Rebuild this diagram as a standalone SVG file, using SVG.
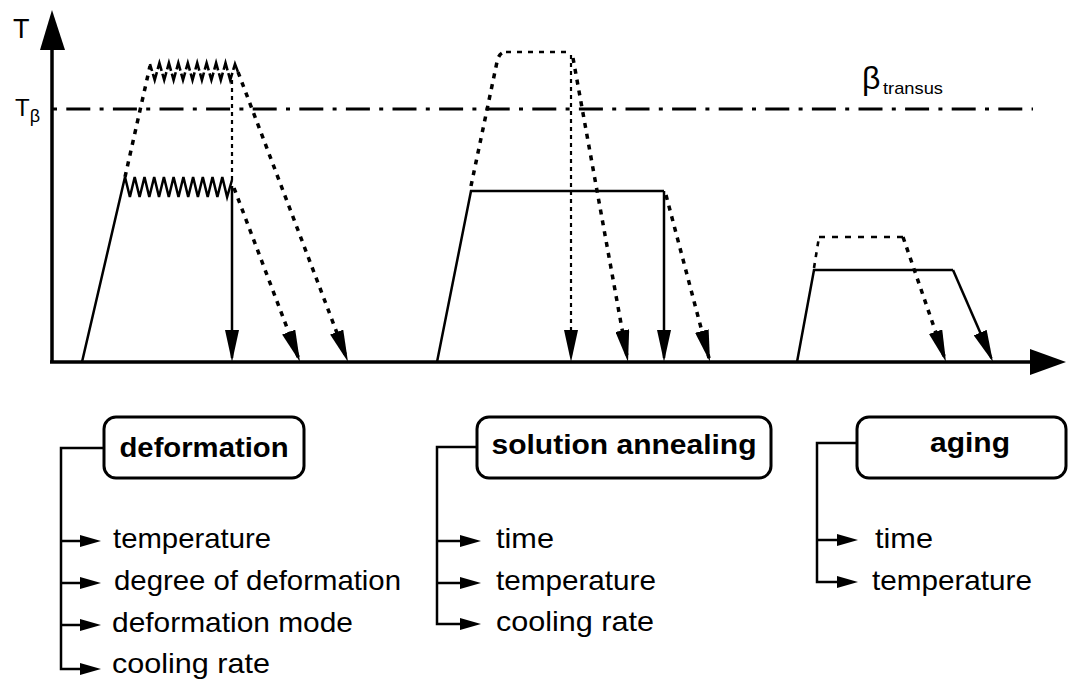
<svg xmlns="http://www.w3.org/2000/svg" width="1070" height="686" viewBox="0 0 1070 686">
<defs>
<marker id="ah" markerUnits="userSpaceOnUse" markerWidth="32" markerHeight="14" refX="28" refY="7" orient="auto"><path d="M0,0 L32,7 L0,14 z" fill="#000"/></marker>
<style>
.ax{stroke:#000;stroke-width:3.5;fill:none}
.sol{stroke:#000;stroke-width:2.5;fill:none}
.dsh{stroke:#000;stroke-width:3.5;fill:none;stroke-dasharray:5 6}
.dot{stroke:#000;stroke-width:2.2;fill:none;stroke-dasharray:4 4}
.dd{stroke:#000;stroke-width:3;fill:none;stroke-dasharray:4 9.3 24 9.3}
.box{stroke:#000;stroke-width:3;fill:#fff}
.br{stroke:#000;stroke-width:2.5;fill:none}
.t{font-family:"Liberation Sans",Arial,sans-serif;fill:#000}
.tb{font-family:"Liberation Sans",Arial,sans-serif;font-weight:bold;font-size:28px;fill:#000}
.it{font-family:"Liberation Sans",Arial,sans-serif;font-size:28.5px;fill:#000}
</style>
</defs>

<g id="axes">
<line class="ax" x1="52" y1="46" x2="52" y2="363"/>
<polygon points="40,50 52,10 65,50" fill="#000"/>
<line class="ax" x1="50" y1="362" x2="1032" y2="362"/>
<polygon points="1030,349 1066,362 1030,375" fill="#000"/>
<text class="t" x="13" y="38" font-size="27">T</text>
<text class="t" x="15" y="116" font-size="24">T<tspan font-size="18" dy="6">β</tspan></text>
<line class="dd" x1="53" y1="109" x2="1033" y2="109"/>
<text class="t" x="862" y="89" font-size="32">β</text>
<text class="t" x="883" y="94" font-size="17" textLength="60" lengthAdjust="spacingAndGlyphs">transus</text>
</g>

<g id="curve-deformation">
<path class="sol" d="M82,362 L125,177 L129.9,197 L134.7,177 L139.6,197 L144.5,177 L149.3,197 L154.2,177 L159,197 L163.9,177 L168.8,197 L173.6,177 L178.5,197 L183.4,177 L188.2,197 L193.1,177 L197.9,197 L202.8,177 L207.7,197 L212.5,177 L217.4,197 L222.3,177 L227.1,197 L232,180"/>
<path class="dsh" d="M125,177 L150,66"/>
<path style="stroke:#000;fill:none;stroke-width:2.6;stroke-dasharray:14.6 3;stroke-dashoffset:7.3" d="M150,64 L154.7,80 L159.4,63 L164.2,80 L168.9,63 L173.6,80 L178.3,63 L183,80 L187.8,63 L192.5,80 L197.2,63 L201.9,80 L206.6,63 L211.4,80 L216.1,63 L220.8,80 L225.5,63 L230.2,80 L235,64 L238,72"/>
<line class="dot" x1="232" y1="80" x2="232" y2="182"/>
<line class="sol" x1="232" y1="186" x2="232" y2="358" marker-end="url(#ah)"/>
<line class="dsh" x1="234" y1="188" x2="298.6" y2="358.3" marker-end="url(#ah)"/>
<line class="dsh" x1="238" y1="72" x2="346.6" y2="358.3" marker-end="url(#ah)"/>
</g>

<g id="curve-solution">
<path class="sol" d="M437,362 L471,191 L664,191"/>
<path class="dsh" d="M471,186 L497,62 Q499,52 506,52"/>
<line class="dot" style="stroke-width:2.6;stroke-dasharray:5 6" x1="506" y1="52" x2="568" y2="52"/>
<line class="dot" x1="571" y1="55" x2="571" y2="358" marker-end="url(#ah)"/>
<line class="dsh" x1="573" y1="58" x2="627.3" y2="358.1" marker-end="url(#ah)"/>
<line class="sol" x1="664" y1="191" x2="664" y2="358" marker-end="url(#ah)"/>
<line class="dsh" x1="666" y1="195" x2="709" y2="358.1" marker-end="url(#ah)"/>
</g>

<g id="curve-aging">
<path class="sol" d="M797,362 L814,270 L953,270"/>
<line class="sol" x1="953" y1="270" x2="991.4" y2="358.3" marker-end="url(#ah)"/>
<path class="dsh" style="stroke-width:2.6" d="M814,268 L819,237"/>
<line class="dot" style="stroke-width:2.6;stroke-dasharray:6 7" x1="819" y1="237" x2="903" y2="237"/>
<line class="dsh" x1="903" y1="237" x2="944.7" y2="358.2" marker-end="url(#ah)"/>
</g>

<g id="connectors">
<path class="br" d="M104,448 L61,448 L61,669 L82,669"/>
<line class="br" x1="61" y1="541" x2="82" y2="541"/>
<line class="br" x1="61" y1="583" x2="82" y2="583"/>
<line class="br" x1="61" y1="625" x2="82" y2="625"/>
<polygon points="80,535 101,541 80,547" fill="#000"/>
<polygon points="80,577 101,583 80,589" fill="#000"/>
<polygon points="80,619 101,625 80,631" fill="#000"/>
<polygon points="80,663 101,669 80,675" fill="#000"/>

<path class="br" d="M477,447 L437,447 L437,624 L461,624"/>
<line class="br" x1="437" y1="541" x2="461" y2="541"/>
<line class="br" x1="437" y1="583" x2="461" y2="583"/>
<polygon points="460,535 481,541 460,547" fill="#000"/>
<polygon points="460,577 481,583 460,589" fill="#000"/>
<polygon points="460,618 481,624 460,630" fill="#000"/>

<path class="br" d="M857,443 L817,443 L817,582 L839,582"/>
<line class="br" x1="817" y1="540" x2="839" y2="540"/>
<polygon points="837,534 858,540 837,546" fill="#000"/>
<polygon points="837,576 858,582 837,588" fill="#000"/>
</g>

<g id="node-deformation">
<rect class="box" x="104" y="417" width="200" height="61" rx="12"/>
<text class="tb" x="204" y="457" text-anchor="middle" textLength="169" lengthAdjust="spacingAndGlyphs">deformation</text>
<text class="it" x="113" y="548" textLength="158" lengthAdjust="spacingAndGlyphs">temperature</text>
<text class="it" x="114" y="590" textLength="287" lengthAdjust="spacingAndGlyphs">degree of deformation</text>
<text class="it" x="112" y="632" textLength="241" lengthAdjust="spacingAndGlyphs">deformation mode</text>
<text class="it" x="112" y="673" textLength="158" lengthAdjust="spacingAndGlyphs">cooling rate</text>
</g>

<g id="node-solution-annealing">
<rect class="box" x="477" y="417" width="294" height="61" rx="12"/>
<text class="tb" x="624" y="454" text-anchor="middle" textLength="265" lengthAdjust="spacingAndGlyphs">solution annealing</text>
<text class="it" x="496" y="548" textLength="58" lengthAdjust="spacingAndGlyphs">time</text>
<text class="it" x="496" y="590" textLength="160" lengthAdjust="spacingAndGlyphs">temperature</text>
<text class="it" x="496" y="631" textLength="158" lengthAdjust="spacingAndGlyphs">cooling rate</text>
</g>

<g id="node-aging">
<rect class="box" x="857" y="417" width="209" height="61" rx="12"/>
<text class="tb" x="970" y="452" text-anchor="middle" textLength="80" lengthAdjust="spacingAndGlyphs">aging</text>
<text class="it" x="875" y="548" textLength="58" lengthAdjust="spacingAndGlyphs">time</text>
<text class="it" x="872" y="590" textLength="160" lengthAdjust="spacingAndGlyphs">temperature</text>
</g>
</svg>
